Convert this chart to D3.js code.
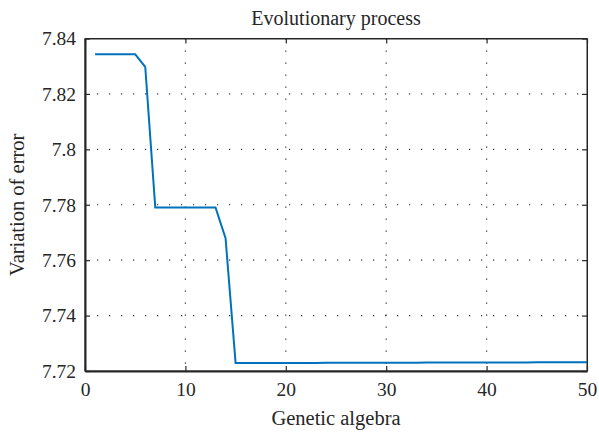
<!DOCTYPE html>
<head>
    <meta charset="utf-8">
    <script src="https://d3js.org/d3.v7.min.js"></script>
    <style>
        body { margin: 0; background: #fff; }
        svg text { font-family: "Liberation Serif", serif !important; fill: #262626; }
    </style>
</head>
<body>
    <svg id="chart" width="599" height="432"></svg>
    <script>
        // generations and best error per generation
        generations = d3.range(1, 51)
        errors = [7.8343, 7.8343, 7.8343, 7.8343, 7.8343, 7.8298, 7.7790, 7.7790, 7.7790, 7.7790,
                  7.7790, 7.7790, 7.7790, 7.7679, 7.7229, 7.7229, 7.7229, 7.7229, 7.7229, 7.7229,
                  7.7229, 7.7229, 7.7229, 7.7230, 7.7230, 7.7230, 7.7230, 7.7230, 7.7230, 7.7230,
                  7.7230, 7.7230, 7.7230, 7.7231, 7.7231, 7.7231, 7.7231, 7.7231, 7.7231, 7.7231,
                  7.7231, 7.7231, 7.7231, 7.7231, 7.7232, 7.7232, 7.7232, 7.7232, 7.7232, 7.7232]
        xTicks = [0, 10, 20, 30, 40, 50]
        yTicks = [7.72, 7.74, 7.76, 7.78, 7.8, 7.82, 7.84]

        margin = ({ top: 38.5, right: 12, bottom: 61, left: 85 })
        width = 599 - margin.left - margin.right
        height = 432 - margin.top - margin.bottom

        var svg = d3.select("#chart")
        var g = svg.append("g").attr("transform", `translate(${margin.left},${margin.top})`)

        var x = d3.scaleLinear().domain([0, 50]).range([0, width])
        var y = d3.scaleLinear().domain([7.72, 7.84]).range([height, 0])

        // dotted grid
        g.append("g").selectAll("line").data(xTicks.slice(1, -1)).enter().append("line")
            .attr("x1", d => x(d)).attr("x2", d => x(d))
            .attr("y1", 0).attr("y2", height)
            .attr("stroke", "#333").attr("stroke-width", 1.2)
            .attr("stroke-dasharray", "1.2,10.8")
        g.append("g").selectAll("line").data(yTicks.slice(1, -1)).enter().append("line")
            .attr("x1", 0).attr("x2", width)
            .attr("y1", d => y(d)).attr("y2", d => y(d))
            .attr("stroke", "#333").attr("stroke-width", 1.2)
            .attr("stroke-dasharray", "1.2,10.8")

        // box
        g.append("rect").attr("width", width).attr("height", height)
            .attr("fill", "none").attr("stroke", "#262626").attr("stroke-width", 1)

        var yFmt = d => (+d.toFixed(2)).toString()

        var xAxis = g.append("g").attr("transform", `translate(0,${height})`)
            .call(d3.axisBottom(x).tickValues(xTicks).tickSizeInner(-5).tickSizeOuter(0).tickPadding(11))
        var xAxisTop = g.append("g")
            .call(d3.axisTop(x).tickValues(xTicks).tickSizeInner(-5).tickSizeOuter(0).tickFormat(""))
        var yAxis = g.append("g")
            .call(d3.axisLeft(y).tickValues(yTicks).tickSizeInner(-5).tickSizeOuter(0).tickPadding(9).tickFormat(yFmt))
        var yAxisRight = g.append("g").attr("transform", `translate(${width},0)`)
            .call(d3.axisRight(y).tickValues(yTicks).tickSizeInner(-5).tickSizeOuter(0).tickFormat(""))

        ;[xAxis, xAxisTop, yAxis, yAxisRight].forEach(a => {
            a.attr("font-family", null)
            a.selectAll(".domain").attr("stroke", "#262626").attr("stroke-width", 2)
            a.selectAll(".tick line").attr("stroke", "#262626").attr("stroke-width", 1.2)
            a.selectAll("text").style("font-size", "19.5px").attr("fill", "#262626")
        })
        xAxisTop.select(".domain").attr("stroke-width", 1)
        yAxisRight.select(".domain").attr("stroke-width", 1)

        // line
        var line = d3.line().x((d, i) => x(generations[i])).y(d => y(d))
        g.append("path").datum(errors)
            .attr("d", line)
            .attr("fill", "none")
            .attr("stroke", "#0072BD")
            .attr("stroke-width", 2)

        svg.append("text").attr("x", margin.left + width / 2).attr("y", 25)
            .attr("text-anchor", "middle").style("font-size", "20px")
            .text("Evolutionary process")
        svg.append("text").attr("x", margin.left + width / 2).attr("y", 425)
            .attr("text-anchor", "middle").style("font-size", "20.5px")
            .text("Genetic algebra")
        svg.append("text")
            .attr("transform", `translate(24,${margin.top + height / 2}) rotate(-90)`)
            .attr("text-anchor", "middle").style("font-size", "20.5px")
            .text("Variation of error")
    </script>
</body>
